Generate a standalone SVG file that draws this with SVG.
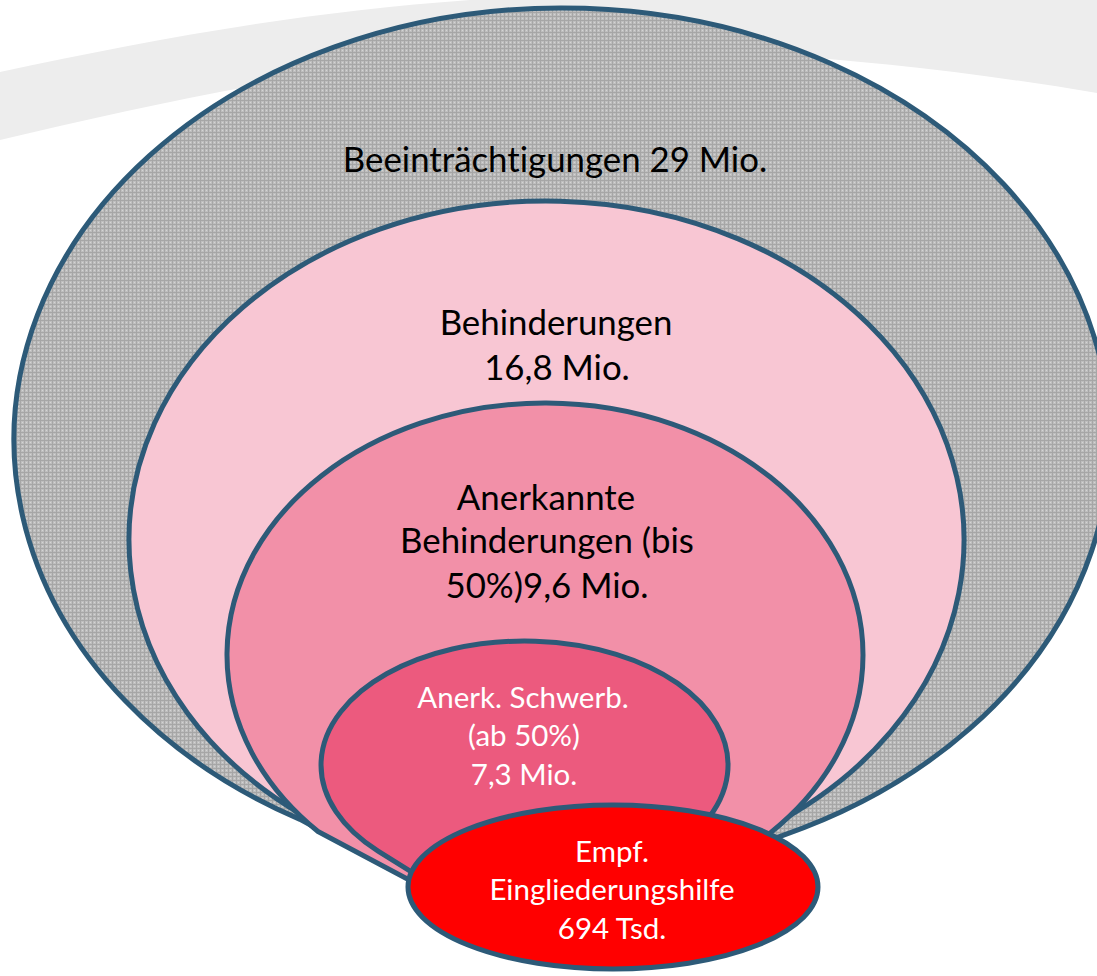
<svg xmlns="http://www.w3.org/2000/svg" width="1097" height="976" viewBox="0 0 1097 976">
<style>
.shape{stroke:#2D5A78;stroke-width:5;stroke-linejoin:round}
.dark{font-family:Lato,"Liberation Sans",sans-serif;font-size:34.8px;fill:#000;text-anchor:middle;font-variant-ligatures:none}
.light{font-family:Lato,"Liberation Sans",sans-serif;font-size:29.5px;fill:#fff;text-anchor:middle;font-variant-ligatures:none}
</style>
<defs>
<pattern id="grid" width="4" height="4" patternUnits="userSpaceOnUse">
<rect width="4" height="4" fill="#BEBEBE"/>
<rect width="4" height="1" fill="#A6A6A6"/>
<rect width="1" height="4" fill="#A6A6A6"/>
<rect x="2" y="2" width="1" height="1" fill="#D4D4D4"/>
</pattern>
</defs>
<rect width="1097" height="976" fill="#fff"/>
<path d="M0,140 C150,105 300,70 500,55 C700,42 900,60 1097,93 L1097,0 L470,0 C300,12 150,40 0,72 Z" fill="#EDEDED"/>
<g id="node-beeintraechtigungen">
<path class="shape" fill="url(#grid)" d="M300,819.4 A548,432 0 1 1 783,835.3 L511,934 Z"/>
<text class="dark" x="555" y="172">Beeinträchtigungen 29 Mio.</text>
</g>
<g id="node-behinderungen">
<path class="shape" fill="#F8C6D3" d="M300,813.6 A417.5,339 0 1 1 770,826.3 L511,934 Z"/>
<text class="dark" x="556" y="335">Behinderungen</text>
<text class="dark" x="557" y="380">16,8 Mio.</text>
</g>
<g id="node-anerkannte">
<path class="shape" fill="#F290A8" d="M318,831.5 A318,252 0 1 1 770,833.1 L511,934 Z"/>
<text class="dark" x="546" y="510">Anerkannte</text>
<text class="dark" x="547" y="553">Behinderungen (bis</text>
<text class="dark" x="547" y="598">50%)9,6 Mio.</text>
</g>
<g id="node-schwerbehindert">
<path class="shape" fill="#EC5A7E" d="M378.1,851.1 A203.5,124 0 1 1 655.3,860 L511,934 Z"/>
<text class="light" x="523" y="708">Anerk. Schwerb.</text>
<text class="light" x="524" y="746">(ab 50%)</text>
<text class="light" x="524" y="785">7,3 Mio.</text>
</g>
<g id="node-eingliederungshilfe">
<ellipse class="shape" fill="#FF0000" cx="613" cy="887" rx="205" ry="82"/>
<text class="light" x="612" y="862">Empf.</text>
<text class="light" x="612" y="900">Eingliederungshilfe</text>
<text class="light" x="612" y="939">694 Tsd.</text>
</g>
<g id="connectors"/>
</svg>
